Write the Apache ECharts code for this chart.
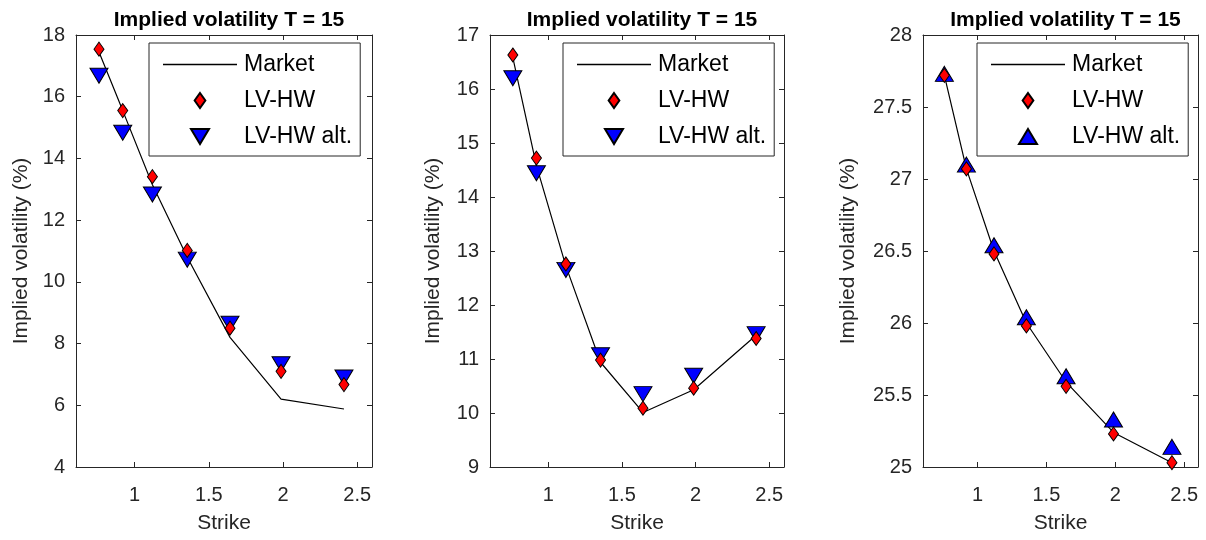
<!DOCTYPE html>
<html><head><meta charset="utf-8">
<script src="https://cdn.jsdelivr.net/npm/echarts@6/dist/echarts.min.js"></script>
<style>html,body{margin:0;padding:0;background:#fff}#c{width:1206px;height:540px}</style>
</head><body><div id="c"></div>
<script>
// ---- data ----
const strikes = [0.76, 0.92, 1.12, 1.355, 1.643, 1.987, 2.411];
const xTicks = [1, 1.5, 2, 2.5];
const titleText = 'Implied volatility T = 15';
const xName = 'Strike';
const yName = 'Implied volatility (%)';
const legendNames = ['Market', 'LV-HW', 'LV-HW alt.'];

const market1 = [17.45, 15.55, 13.15, 10.8, 8.2, 6.2, 5.88];
const lvhw1   = [17.54, 15.55, 13.41, 11.02, 8.5, 7.1, 6.67];
const alt1    = [16.68, 14.83, 12.83, 10.72, 8.64, 7.33, 6.9];

const market2 = [16.58, 14.58, 12.72, 10.94, 10.01, 10.43, 11.44];
const lvhw2   = [16.63, 14.72, 12.76, 10.98, 10.09, 10.46, 11.38];
const alt2    = [16.2, 14.44, 12.65, 11.07, 10.35, 10.69, 11.46];

const market3 = [27.72, 27.07, 26.5, 26.0, 25.59, 25.24, 25.03];
const lvhw3   = [27.72, 27.07, 26.48, 25.98, 25.56, 25.23, 25.03];
const alt3    = [27.73, 27.1, 26.54, 26.04, 25.63, 25.33, 25.14];

const yRange1 = [4, 18, 2];
const yRange2 = [9, 17, 1];
const yRange3 = [25, 28, 0.5];

// ---- layout / style ----
const FONT = 'Liberation Sans, Arial, Helvetica, sans-serif';
const TXT = '#262626';
const X_MIN = 0.605, X_MAX = 2.6;
const panels = [
  {market: market1, lvhw: lvhw1, alt: alt1, y: yRange1, up: false, left: 76, width: 296, nameGap: 44, legLeft: 149},
  {market: market2, lvhw: lvhw2, alt: alt2, y: yRange2, up: false, left: 490, width: 294, nameGap: 46, legLeft: 563},
  {market: market3, lvhw: lvhw3, alt: alt3, y: yRange3, up: true, left: 923, width: 275, nameGap: 64, legLeft: 977}
];
const TOP = 35, HEIGHT = 432;
const DIAMOND = 'path://M5,0L10,7L5,14L0,7Z';
const TRI_DOWN = 'path://M0,0L18,0L9,15Z';
const TRI_UP = 'path://M9,0L18,15L0,15Z';
const LINE_ICON = 'path://M0,0H74V1.3H0Z';

const pair = (ys) => strikes.map((x, i) => [x, ys[i]]);

const option = {
  backgroundColor: '#fff',
  animation: false,
  textStyle: {fontFamily: FONT},
  title: [], grid: [], xAxis: [], yAxis: [], series: [], legend: []
};

panels.forEach((p, k) => {
  const tag = '|' + k;
  option.title.push({
    text: titleText, left: p.left + p.width / 2, top: 5, textAlign: 'center',
    textStyle: {fontFamily: FONT, fontSize: 21, fontWeight: 'bold', color: '#000'}
  });
  option.grid.push({left: p.left, top: TOP, width: p.width, height: HEIGHT, containLabel: false});
  const axLine = {show: true, onZero: false, lineStyle: {color: TXT, width: 1}};
  const axTick = {show: true, inside: true, length: 5, lineStyle: {color: TXT, width: 1}};
  option.xAxis.push({
    type: 'value', gridIndex: k, min: X_MIN, max: X_MAX, position: 'bottom',
    name: xName, nameLocation: 'middle', nameGap: 46,
    nameTextStyle: {fontFamily: FONT, fontSize: 21, color: TXT},
    axisLine: axLine, axisTick: Object.assign({customValues: xTicks}, axTick),
    axisLabel: {customValues: xTicks, margin: 18, fontFamily: FONT, fontSize: 20, color: TXT},
    splitLine: {show: false}
  });
  option.xAxis.push({
    type: 'value', gridIndex: k, min: X_MIN, max: X_MAX, position: 'top',
    axisLine: axLine, axisTick: Object.assign({customValues: xTicks}, axTick),
    axisLabel: {show: false}, splitLine: {show: false}
  });
  option.yAxis.push({
    type: 'value', gridIndex: k, min: p.y[0], max: p.y[1], interval: p.y[2], position: 'left',
    name: yName, nameLocation: 'middle', nameGap: p.nameGap,
    nameTextStyle: {fontFamily: FONT, fontSize: 21, color: TXT},
    axisLine: axLine, axisTick: axTick,
    axisLabel: {margin: 11, fontFamily: FONT, fontSize: 20, color: TXT},
    splitLine: {show: false}
  });
  option.yAxis.push({
    type: 'value', gridIndex: k, min: p.y[0], max: p.y[1], interval: p.y[2], position: 'right',
    axisLine: axLine, axisTick: axTick, axisLabel: {show: false}, splitLine: {show: false}
  });
  const xi = 2 * k, yi = 2 * k;
  option.series.push({
    name: legendNames[0] + tag, type: 'line', xAxisIndex: xi, yAxisIndex: yi,
    data: pair(p.market), symbol: 'none', z: 2,
    lineStyle: {color: '#000', width: 1.2}, itemStyle: {color: '#000'}
  });
  option.series.push({
    name: legendNames[2] + tag, type: 'scatter', xAxisIndex: xi, yAxisIndex: yi,
    data: pair(p.alt), symbol: p.up ? TRI_UP : TRI_DOWN, symbolSize: [18, 15], z: 3,
    itemStyle: {color: '#0000ff', borderColor: '#000', borderWidth: 1, opacity: 1}
  });
  option.series.push({
    name: legendNames[1] + tag, type: 'scatter', xAxisIndex: xi, yAxisIndex: yi,
    data: pair(p.lvhw), symbol: DIAMOND, symbolSize: [10, 14], z: 4,
    itemStyle: {color: '#ff0000', borderColor: '#000', borderWidth: 1, opacity: 1}
  });
  option.legend.push({
    orient: 'vertical', left: p.legLeft, top: 43,
    data: [
      {name: legendNames[0] + tag, icon: LINE_ICON, itemStyle: {color: '#000', borderWidth: 0}},
      {name: legendNames[1] + tag},
      {name: legendNames[2] + tag}
    ],
    formatter: (n) => n.split('|')[0],
    itemWidth: 74, itemHeight: 15, itemGap: 13,
    padding: [10, 8, 8, 14],
    backgroundColor: '#fff', borderColor: TXT, borderWidth: 1,
    selectedMode: false,
    textStyle: {fontFamily: FONT, fontSize: 23, color: '#000', lineHeight: 20, padding: [0, 0, 0, 2]}
  });
});

const chart = echarts.init(document.getElementById('c'), null, {renderer: 'canvas'});
chart.setOption(option);
</script>
</body></html>
